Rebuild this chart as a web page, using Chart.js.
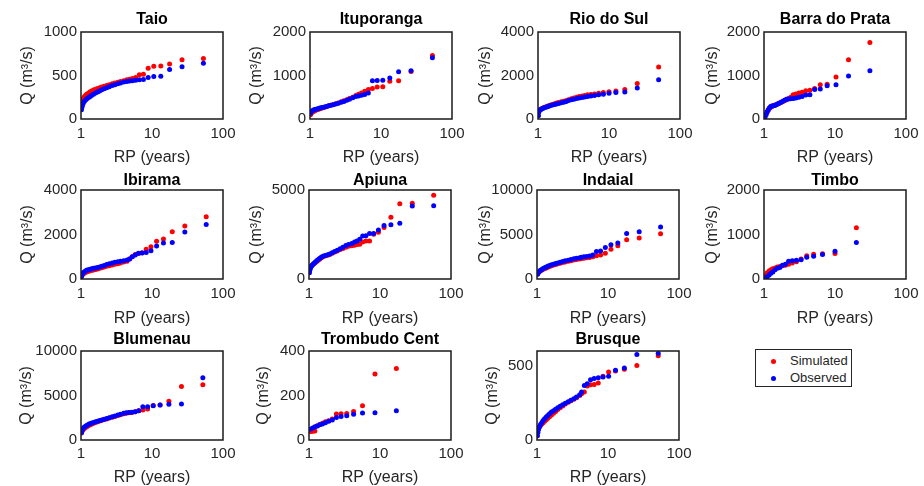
<!DOCTYPE html>
<html>
<head>
<meta charset="utf-8">
<script src="https://cdn.jsdelivr.net/npm/chart.js@4.4.1/dist/chart.umd.min.js"></script>
<style>
  body { margin: 0; background: #fff; }
  #wrap { position: relative; width: 924px; height: 486px; overflow: hidden; font-family: "Liberation Sans", Arial, sans-serif; }
  #wrap canvas { position: absolute; }
  .legend { position: absolute; left: 755px; top: 349px; width: 95px; height: 36px; border: 1.5px solid #262626; background: #fff; color: #262626; font-size: 13px; }
  .legend .dot { position: absolute; left: 14.5px; width: 5px; height: 5px; border-radius: 50%; }
  .legend .txt { position: absolute; left: 34px; line-height: 15px; }
</style>
</head>
<body>
<div id="wrap">
  <div class="legend">
    <span class="dot" style="top:8.5px;background:#ff0000"></span><span class="txt" style="top:3px">Simulated</span>
    <span class="dot" style="top:25.5px;background:#0000ff"></span><span class="txt" style="top:20px">Observed</span>
  </div>
</div>
<script>
// return periods (years) and flows (m3/s)

const taioRP  = [53, 26.5, 17.7, 13.3, 10.6, 8.83, 7.57, 6.63, 5.89, 5.3, 4.82, 4.42, 4.0, 3.6, 3.3, 3.0, 2.75, 2.5, 2.3, 2.12, 1.96, 1.83, 1.71, 1.6, 1.5, 1.42, 1.35, 1.28, 1.22, 1.17, 1.12, 1.08, 1.05, 1.03, 1.015];
const taioSim = [695, 680, 632, 610, 607, 582, 515, 508, 478, 465, 458, 450, 440, 430, 422, 413, 405, 395, 385, 377, 368, 360, 352, 342, 332, 322, 312, 300, 288, 275, 258, 238, 215, 190, 160];
const taioObs = [640, 600, 570, 490, 488, 478, 455, 450, 445, 440, 436, 432, 425, 415, 405, 395, 385, 372, 360, 348, 335, 322, 310, 298, 285, 272, 260, 248, 235, 220, 205, 185, 160, 135, 105];

const itupRP  = [53, 26.5, 17.7, 13.3, 10.6, 8.83, 7.57, 6.63, 5.89, 5.3, 4.82, 4.42, 4.0, 3.6, 3.3, 3.0, 2.75, 2.5, 2.3, 2.12, 1.96, 1.83, 1.71, 1.6, 1.5, 1.42, 1.35, 1.28, 1.22, 1.17, 1.12, 1.08, 1.05, 1.03, 1.015];
const itupSim = [1460, 1090, 880, 870, 740, 735, 700, 680, 640, 600, 570, 540, 500, 470, 445, 420, 395, 370, 350, 335, 318, 302, 288, 272, 258, 244, 232, 218, 205, 190, 175, 160, 145, 125, 100];
const itupObs = [1410, 1110, 1085, 940, 890, 885, 880, 600, 565, 545, 530, 515, 490, 455, 430, 405, 385, 362, 345, 330, 315, 302, 290, 278, 266, 256, 246, 236, 226, 216, 205, 192, 178, 160, 135];

const rioRP  = [50, 25, 16.7, 12.5, 10, 8.33, 7.14, 6.25, 5.56, 5, 4.55, 4.17, 3.8, 3.5, 3.2, 2.95, 2.7, 2.5, 2.3, 2.12, 1.96, 1.83, 1.71, 1.6, 1.5, 1.42, 1.35, 1.28, 1.22, 1.17, 1.12, 1.08, 1.05, 1.03, 1.015];
const rioSim = [2390, 1630, 1360, 1290, 1255, 1215, 1185, 1150, 1125, 1110, 1080, 1060, 1030, 995, 960, 930, 890, 850, 820, 790, 760, 730, 700, 670, 640, 610, 585, 555, 530, 500, 470, 440, 410, 370, 300];
const rioObs = [1810, 1420, 1240, 1215, 1185, 1140, 1110, 1080, 1060, 1030, 1010, 990, 970, 945, 910, 880, 845, 805, 775, 745, 715, 690, 665, 640, 615, 590, 565, 540, 515, 490, 460, 430, 400, 330, 150];

const barraRP  = [31, 15.5, 10.33, 7.75, 6.2, 5.17, 4.43, 3.875, 3.44, 3.1, 2.82, 2.58, 2.38, 2.21, 2.07, 1.94, 1.82, 1.72, 1.63, 1.55, 1.48, 1.41, 1.35, 1.29, 1.24, 1.19, 1.15, 1.11, 1.07, 1.03];
const barraSim = [1760, 1360, 965, 800, 785, 700, 660, 650, 615, 595, 575, 555, 500, 470, 440, 420, 400, 380, 360, 345, 330, 315, 305, 290, 270, 245, 210, 170, 120, 60];
const barraObs = [1110, 990, 785, 765, 690, 680, 555, 550, 515, 500, 480, 470, 465, 460, 455, 430, 400, 380, 360, 345, 330, 310, 305, 300, 290, 255, 210, 160, 100, 40];

const ibiRP  = [58, 29, 19.3, 14.5, 11.6, 9.67, 8.29, 7.25, 6.44, 5.8, 5.27, 4.83, 4.45, 4.0, 3.6, 3.3, 3.0, 2.75, 2.5, 2.3, 2.12, 1.96, 1.83, 1.71, 1.6, 1.5, 1.42, 1.35, 1.28, 1.22, 1.17, 1.12, 1.08, 1.05, 1.03, 1.015];
const ibiSim = [2800, 2380, 2120, 1800, 1700, 1450, 1340, 1180, 1150, 1100, 1000, 900, 800, 760, 720, 690, 660, 630, 600, 570, 540, 510, 480, 455, 430, 410, 390, 370, 350, 330, 305, 275, 240, 200, 160, 110];
const ibiObs = [2450, 2110, 1640, 1620, 1480, 1270, 1190, 1165, 1160, 1080, 1000, 900, 850, 820, 800, 780, 750, 720, 680, 650, 610, 570, 540, 520, 500, 480, 460, 440, 420, 400, 370, 330, 290, 240, 190, 110];

const apiRP  = [57, 28.5, 19, 14.25, 11.4, 9.5, 8.14, 7.125, 6.33, 5.7, 5.18, 4.75, 4.38, 4.0, 3.6, 3.3, 3.0, 2.75, 2.5, 2.3, 2.12, 1.96, 1.83, 1.71, 1.6, 1.5, 1.42, 1.35, 1.28, 1.22, 1.17, 1.12, 1.08, 1.05, 1.03, 1.015];
const apiSim = [4700, 4250, 4230, 3470, 2900, 2620, 2520, 2140, 2130, 2080, 1950, 1940, 1900, 1870, 1840, 1790, 1720, 1660, 1580, 1510, 1440, 1380, 1340, 1300, 1260, 1200, 1120, 1050, 980, 910, 850, 790, 730, 660, 600, 520];
const apiObs = [4120, 4100, 3130, 3050, 3000, 2750, 2560, 2550, 2430, 2420, 2230, 2140, 2080, 2000, 1940, 1880, 1780, 1700, 1610, 1540, 1470, 1400, 1360, 1320, 1290, 1240, 1170, 1100, 1020, 940, 870, 800, 720, 630, 500, 350];

const indRP  = [55, 27.5, 18.3, 13.75, 11, 9.17, 7.86, 6.875, 6.11, 5.5, 5, 4.58, 4.23, 4.0, 3.6, 3.3, 3.0, 2.75, 2.5, 2.3, 2.12, 1.96, 1.83, 1.71, 1.6, 1.5, 1.42, 1.35, 1.28, 1.22, 1.17, 1.12, 1.08, 1.05, 1.03, 1.015];
const indSim = [5080, 4620, 4420, 3730, 3350, 2890, 2690, 2620, 2500, 2420, 2380, 2340, 2300, 2250, 2190, 2130, 2060, 1990, 1910, 1840, 1770, 1700, 1630, 1560, 1490, 1410, 1330, 1250, 1170, 1090, 1010, 920, 840, 760, 660, 560];
const indObs = [5850, 5310, 5120, 4040, 3850, 3540, 3150, 3080, 2700, 2580, 2540, 2500, 2450, 2400, 2340, 2280, 2200, 2120, 2040, 1960, 1880, 1800, 1730, 1660, 1590, 1510, 1430, 1350, 1260, 1170, 1080, 980, 880, 780, 660, 520];

const timRP  = [20, 10, 6.67, 5, 4, 3.33, 2.86, 2.5, 2.22, 2, 1.82, 1.67, 1.54, 1.43, 1.33, 1.25, 1.18, 1.11, 1.05];
const timSim = [1150, 575, 565, 555, 525, 450, 390, 360, 330, 310, 295, 280, 270, 250, 230, 210, 180, 140, 70];
const timObs = [820, 625, 550, 510, 490, 435, 420, 410, 400, 330, 310, 260, 240, 210, 160, 130, 90, 50, 15];

const bluRP  = [52, 26, 17.3, 13, 10.4, 8.67, 7.43, 6.5, 5.78, 5.2, 4.73, 4.33, 4.0, 3.6, 3.3, 3.0, 2.75, 2.5, 2.3, 2.12, 1.96, 1.83, 1.71, 1.6, 1.5, 1.42, 1.35, 1.28, 1.22, 1.17, 1.12, 1.08, 1.05, 1.03, 1.015];
const bluSim = [6200, 6000, 4350, 3920, 3880, 3470, 3360, 3280, 3170, 3100, 3050, 3000, 2950, 2850, 2750, 2650, 2560, 2460, 2370, 2290, 2210, 2140, 2060, 1980, 1890, 1810, 1720, 1630, 1530, 1440, 1330, 1220, 1100, 950, 800];
const bluObs = [7000, 4050, 4030, 3920, 3850, 3740, 3730, 3280, 3170, 3120, 3080, 3050, 3000, 2900, 2800, 2700, 2610, 2510, 2420, 2340, 2260, 2190, 2120, 2050, 1980, 1910, 1840, 1760, 1670, 1580, 1470, 1350, 1210, 1050, 850];

const troRP  = [17, 8.5, 5.67, 4.25, 3.4, 2.83, 2.43, 2.125, 1.89, 1.7, 1.545, 1.417, 1.31, 1.21, 1.13, 1.0625];
const troSim = [321, 297, 154, 128, 119, 118, 117, 94, 87, 82, 75, 70, 64, 40, 39, 38];
const troObs = [131, 122, 121, 116, 109, 106, 101, 90, 84, 78, 72, 69, 63, 60, 54, 49];

const bruRP  = [51, 25.5, 17, 12.75, 10.2, 8.5, 7.29, 6.375, 5.67, 5.1, 4.64, 4.25, 4.0, 3.6, 3.3, 3.0, 2.75, 2.5, 2.3, 2.12, 1.96, 1.83, 1.71, 1.6, 1.5, 1.42, 1.35, 1.28, 1.22, 1.17, 1.12, 1.08, 1.05, 1.03, 1.015];
const bruSim = [568, 502, 477, 465, 459, 430, 384, 375, 373, 364, 323, 311, 300, 285, 275, 265, 255, 243, 230, 218, 205, 192, 180, 168, 157, 146, 136, 126, 117, 108, 98, 90, 82, 76, 70];
const bruObs = [584, 577, 486, 470, 430, 425, 420, 414, 407, 380, 368, 323, 305, 290, 278, 268, 258, 248, 238, 228, 218, 208, 198, 188, 177, 166, 155, 143, 131, 118, 104, 88, 70, 50, 28];

const xTicks = [1, 10, 100];

const panels = [
  ['Taio', taioRP, taioSim, taioObs, 1000, [0, 500, 1000]],
  ['Ituporanga', itupRP, itupSim, itupObs, 2000, [0, 1000, 2000]],
  ['Rio do Sul', rioRP, rioSim, rioObs, 4000, [0, 2000, 4000]],
  ['Barra do Prata', barraRP, barraSim, barraObs, 2000, [0, 1000, 2000]],
  ['Ibirama', ibiRP, ibiSim, ibiObs, 4000, [0, 2000, 4000]],
  ['Apiuna', apiRP, apiSim, apiObs, 5000, [0, 5000]],
  ['Indaial', indRP, indSim, indObs, 10000, [0, 5000, 10000]],
  ['Timbo', timRP, timSim, timObs, 2000, [0, 1000, 2000]],
  ['Blumenau', bluRP, bluSim, bluObs, 10000, [0, 5000, 10000]],
  ['Trombudo Cent', troRP, troSim, troObs, 400, [0, 200, 400]],
  ['Brusque', bruRP, bruSim, bruObs, 600, [0, 500]]
];

// layout of the subplot grid (pixels inside each cell)
const CW = 250, CH = 175, BOXW = 142;
const boxLeft = [81, 79, 76, 71, 81, 78, 75, 71, 81, 78, 75];
const yLabX   = [28, 26, 24, 20, 28, 26, 24, 20, 27, 33, 31];
const boxTop = [32, 28, 27], boxBottom = [119, 117, 116];
const titleY = [20, 18.5, 15.5];
const xTitlePad = [8, 9, 12];
const xTickPad = [6, 6, 5];

Chart.defaults.font.family = '"Liberation Sans", Arial, sans-serif';
Chart.defaults.color = '#262626';

// frame around the axes + subplot title centred over the axes
const boxPlugin = {
  id: 'box',
  afterDraw(chart, args, opts) {
    const a = chart.chartArea, c = chart.ctx;
    c.save();
    c.strokeStyle = '#1a1a1a';
    c.lineWidth = 1.5;
    c.strokeRect(a.left, a.top, a.right - a.left, a.bottom - a.top);
    c.fillStyle = '#000';
    c.font = 'bold 16px "Liberation Sans", Arial, sans-serif';
    c.textAlign = 'center';
    c.textBaseline = 'middle';
    c.fillText(opts.text, (a.left + a.right) / 2, opts.y);
    c.restore();
  }
};

const wrap = document.getElementById('wrap');

panels.forEach((p, i) => {
  const [name, rp, sim, obs, yMax, yTicks] = p;
  const col = i % 4, row = Math.floor(i / 4);
  const cv = document.createElement('canvas');
  cv.width = CW; cv.height = CH;
  cv.style.left = (col * 231) + 'px';
  cv.style.top = (row * 162) + 'px';
  wrap.appendChild(cv);

  new Chart(cv, {
    type: 'scatter',
    data: {
      datasets: [
        { label: 'Simulated', data: rp.map((x, k) => ({ x: x, y: sim[k] })), backgroundColor: '#ff0000', pointRadius: 2.5, borderWidth: 0, order: 1 },
        { label: 'Observed', data: rp.map((x, k) => ({ x: x, y: obs[k] })), backgroundColor: '#0000ff', pointRadius: 2.5, borderWidth: 0, order: 0 }
      ]
    },
    options: {
      responsive: false,
      animation: false,
      layout: { padding: { left: 0, top: boxTop[row], bottom: 0, right: CW - boxLeft[i] - BOXW } },
      plugins: {
        legend: { display: false },
        tooltip: { enabled: false },
        box: { text: name, y: titleY[row] }
      },
      scales: {
        x: {
          type: 'logarithmic', min: 1, max: 100,
          grid: { display: false, drawTicks: false },
          border: { display: false },
          afterBuildTicks: s => { s.ticks = xTicks.map(v => ({ value: v })); },
          afterFit: s => { s.height = CH - boxBottom[row]; },
          ticks: { font: { size: 15 }, padding: xTickPad[row], maxRotation: 0, callback: v => String(v) },
          title: { display: true, text: 'RP (years)', font: { size: 16 }, padding: { top: 0, bottom: xTitlePad[row] } }
        },
        y: {
          min: 0, max: yMax,
          grid: { display: false, drawTicks: false },
          border: { display: false },
          afterBuildTicks: s => { s.ticks = yTicks.map(v => ({ value: v })); },
          afterFit: s => { s.width = boxLeft[i]; },
          ticks: { font: { size: 15 }, padding: 4, callback: v => String(v) },
          title: { display: true, text: 'Q (m³/s)', font: { size: 16 }, padding: { top: yLabX[i] - 9.6, bottom: 0 } }
        }
      }
    },
    plugins: [boxPlugin]
  });
});
</script>
</body>
</html>
